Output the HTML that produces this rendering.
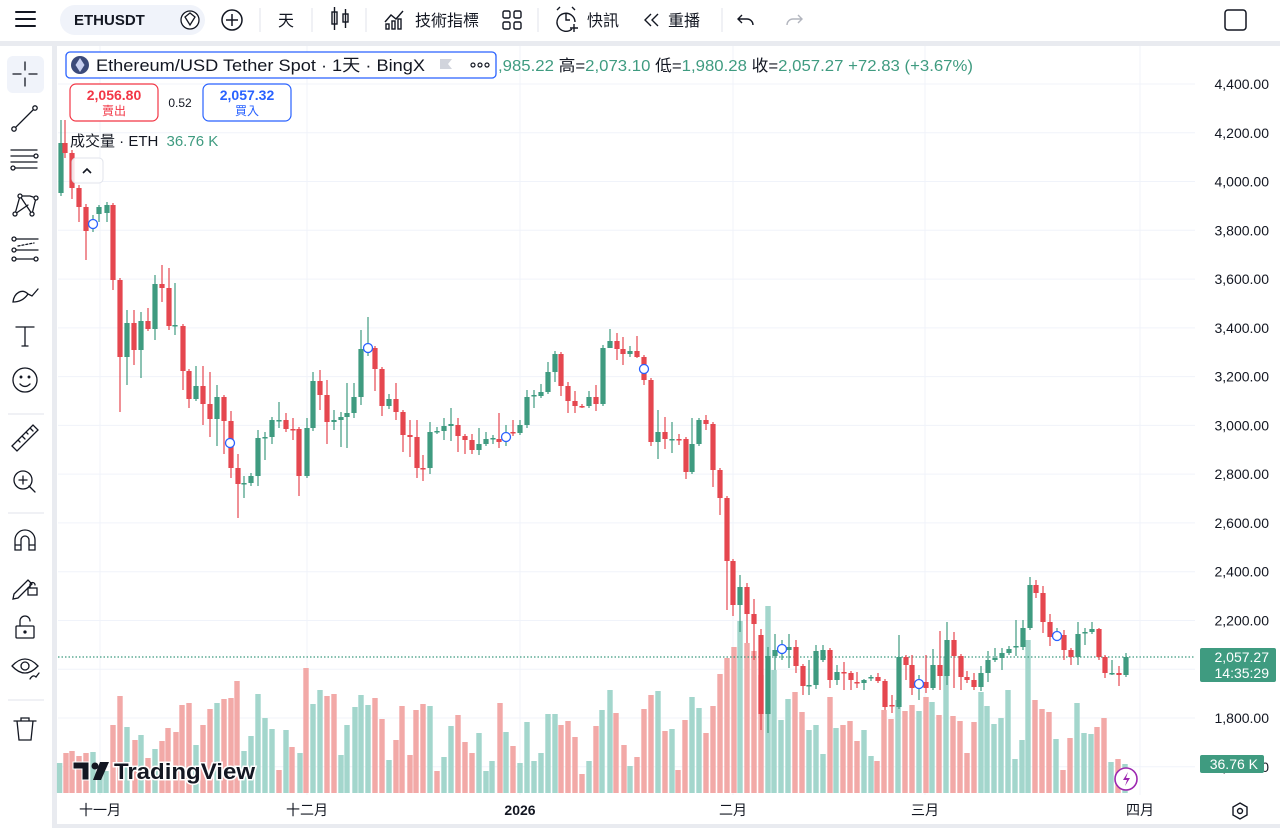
<!DOCTYPE html>
<html><head><meta charset="utf-8">
<style>
html,body{margin:0;padding:0;background:#fff;width:1280px;height:828px;overflow:hidden;font-family:"Liberation Sans","Noto Sans CJK TC",sans-serif;}
svg{position:absolute;left:0;top:0;}
</style></head>
<body>
<svg id="s" width="1280" height="828" viewBox="0 0 1280 828" xmlns="http://www.w3.org/2000/svg" font-family="Liberation Sans, Noto Sans CJK TC, sans-serif">
<rect width="1280" height="828" fill="#fff"/>
<rect x="0" y="41" width="1280" height="5" fill="#e9ebf0"/>
<rect x="52" y="41" width="5" height="787" fill="#e9ebf0"/>
<rect x="57" y="824" width="1223" height="4" fill="#e9ebf0"/>
<g id="grid" stroke="#f0f3fa" stroke-width="1"></g>
<g id="vol"></g>
<line x1="58" y1="657" x2="1195" y2="657" stroke="#3f9b80" stroke-width="1.2" stroke-dasharray="1.5,2"/>
<g id="cdl"></g>
<g id="mk" fill="#fff" stroke="#2962ff" stroke-width="1.3"></g>

<g stroke="#131722" stroke-width="2" stroke-linecap="round">
<line x1="16" y1="12" x2="35" y2="12"/><line x1="16" y1="19" x2="35" y2="19"/><line x1="16" y1="26" x2="35" y2="26"/>
</g>
<rect x="60" y="5" width="145" height="30" rx="15" fill="#f0f3fa"/>
<text x="74" y="25" font-size="15" font-weight="bold" fill="#131722">ETHUSDT</text>
<circle cx="190" cy="20" r="9" fill="#fff" stroke="#131722" stroke-width="1.3"/>
<path d="M185 17 L190 13 L195 17 L190 25 Z" fill="none" stroke="#131722" stroke-width="1.3"/>
<circle cx="232" cy="20" r="10" fill="none" stroke="#131722" stroke-width="1.5"/>
<path d="M232 14v12M226 20h12" stroke="#131722" stroke-width="1.5"/>
<g stroke="#e0e3eb"><line x1="260" y1="8" x2="260" y2="32"/><line x1="312" y1="8" x2="312" y2="32"/><line x1="366" y1="8" x2="366" y2="32"/><line x1="538" y1="8" x2="538" y2="32"/><line x1="722" y1="8" x2="722" y2="32"/></g>
<text x="278" y="26" font-size="16" fill="#131722">天</text>
<g stroke="#131722" stroke-width="1.4" fill="none"><rect x="332" y="12" width="5" height="12"/><line x1="334.5" y1="7" x2="334.5" y2="30"/><rect x="343" y="14" width="5" height="8"/><line x1="345.5" y1="9" x2="345.5" y2="28"/></g>
<g stroke="#131722" stroke-width="1.4" fill="none"><path d="M385 22 L391 15 L396 19 L403 11"/><rect x="386" y="24" width="3" height="5"/><rect x="392" y="21" width="3" height="8"/><rect x="398" y="19" width="3" height="10"/></g>
<text x="415" y="26" font-size="16" fill="#131722">技術指標</text>
<g stroke="#131722" stroke-width="1.4" fill="none"><rect x="503" y="11" width="7" height="7" rx="1.5"/><rect x="514" y="11" width="7" height="7" rx="1.5"/><rect x="503" y="22" width="7" height="7" rx="1.5"/><rect x="514" y="22" width="7" height="7" rx="1.5"/></g>
<g stroke="#131722" stroke-width="1.4" fill="none"><path d="M572 29 A9 9 0 1 1 575 22"/><path d="M566 14v6h4"/><path d="M574 24v8M570 28h8"/><path d="M557 10l3-3M575 10l-3-3"/></g>
<text x="587" y="26" font-size="16" fill="#131722">快訊</text>
<g stroke="#131722" stroke-width="1.4" fill="none"><path d="M651 14l-6 6 6 6M658 14l-6 6 6 6"/></g>
<text x="668" y="26" font-size="16" fill="#131722">重播</text>
<path d="M742 15 l-4 4 4 4 M738 19 h9 a6 6 0 0 1 6 6" stroke="#131722" stroke-width="1.4" fill="none"/>
<path d="M798 15 l4 4 -4 4 M802 19 h-9 a6 6 0 0 0 -6 6" stroke="#b2b5be" stroke-width="1.4" fill="none"/>
<rect x="1225" y="10" width="21" height="20" rx="3" fill="none" stroke="#131722" stroke-width="1.5"/>

<rect x="7" y="56" width="37" height="37" rx="6" fill="#f0f3fa"/>
<g stroke="#131722" stroke-width="1.3" fill="none" stroke-linecap="round">
<path d="M25 62v8M25 78v8M13 74h8M29 74h8"/>
<path d="M14 129 L35 108"/><circle cx="14" cy="129" r="2.2" fill="#fff"/><circle cx="35" cy="108" r="2.2" fill="#fff"/>
<path d="M11 150h26M11 156h26M11 162h26M11 168h26"/><circle cx="36" cy="156" r="2" fill="#fff"/><circle cx="13" cy="168" r="2" fill="#fff"/>
<path d="M15 214 L20 196 L32 214 L36 198 M20 196 L30 196 L36 198 M15 214 L28 205"/><circle cx="15" cy="214" r="2" fill="#fff"/><circle cx="20" cy="196" r="2" fill="#fff"/><circle cx="36" cy="198" r="2" fill="#fff"/><circle cx="32" cy="214" r="2" fill="#fff"/>
<path d="M14 239h24M14 250h24M14 259h24"/><path d="M18 246l16-3" stroke-dasharray="2 2"/><circle cx="14" cy="239" r="2" fill="#fff"/><circle cx="14" cy="250" r="2" fill="#fff"/><circle cx="14" cy="259" r="2" fill="#fff"/><circle cx="36" cy="259" r="2" fill="#fff"/>
<path d="M13 302 C14 293 22 288 28 294 C24 300 18 302 13 302 Z M28 294 l4 2 6-7"/>
<path d="M16 327h18M25 327v19M22 346h6"/>
<circle cx="25" cy="380" r="12"/><circle cx="21" cy="377" r="0.8" fill="#131722"/><circle cx="29" cy="377" r="0.8" fill="#131722"/><path d="M20 384 q5 5 10 0"/>
<path d="M12 446 L33 425 L38 430 L17 451 Z M18 440l2 2M22 436l3 3M26 432l2 2M30 428l3 3"/>
<circle cx="23" cy="480" r="9"/><path d="M23 476v8M19 480h8M29 486l6 6"/>
<path d="M15 550v-10a10 10 0 0 1 20 0v10h-6v-10a4 4 0 0 0 -8 0v10z M15 545h6M29 545h6"/>
<path d="M14 594 L28 580 L32 584 L18 598 L13 599 Z"/><rect x="28" y="588" width="9" height="7"/><path d="M30 588v-3a2.5 2.5 0 0 1 5 0"/>
<rect x="16" y="626" width="18" height="12" rx="1"/><path d="M20 626v-5a5 5 0 0 1 10 0"/><circle cx="25" cy="632" r="1" fill="#131722"/>
<path d="M12 666 q13 -14 26 0 q-13 14 -26 0"/><circle cx="25" cy="666" r="4"/><path d="M30 679 q3 -5 6 -2 l3 -4"/>
<path d="M14 721h22M17 721l2 19h12l2-19M21 721v-3h8v3"/>
</g>
<g stroke="#e0e3eb"><line x1="8" y1="414" x2="44" y2="414"/><line x1="8" y1="513" x2="44" y2="513"/><line x1="8" y1="700" x2="44" y2="700"/></g>

<rect x="66" y="52" width="430" height="26" rx="4" fill="#fff" stroke="#2962ff" stroke-width="1.3"/>
<circle cx="80" cy="65" r="9" fill="#3b4a7a"/><path d="M80 58 L84.5 65 L80 72 L75.5 65 Z" fill="#c8d0f0"/>
<text x="96" y="71" font-size="17" fill="#131722" textLength="329" lengthAdjust="spacingAndGlyphs">Ethereum/USD Tether Spot · 1天 · BingX</text>
<path d="M440 59h12l-4 5 4 5h-12z" fill="#d1d4dc"/>
<g fill="none" stroke="#131722" stroke-width="1.2"><circle cx="473" cy="65" r="2"/><circle cx="480" cy="65" r="2"/><circle cx="487" cy="65" r="2"/></g>
<text x="498" y="71" font-size="16" fill="#3f9b80" textLength="475" lengthAdjust="spacingAndGlyphs">,985.22 <tspan fill="#131722">高=</tspan>2,073.10 <tspan fill="#131722">低=</tspan>1,980.28 <tspan fill="#131722">收=</tspan>2,057.27 +72.83 (+3.67%)</text>
<rect x="70" y="84" width="88" height="37" rx="6" fill="#fff" stroke="#f23645" stroke-width="1.2"/>
<text x="114" y="100" font-size="14" font-weight="bold" fill="#f23645" text-anchor="middle">2,056.80</text>
<text x="114" y="115" font-size="12" fill="#f23645" text-anchor="middle">賣出</text>
<text x="180" y="107" font-size="12" fill="#131722" text-anchor="middle">0.52</text>
<rect x="203" y="84" width="88" height="37" rx="6" fill="#fff" stroke="#2962ff" stroke-width="1.2"/>
<text x="247" y="100" font-size="14" font-weight="bold" fill="#2962ff" text-anchor="middle">2,057.32</text>
<text x="247" y="115" font-size="12" fill="#2962ff" text-anchor="middle">買入</text>
<text x="70" y="146" font-size="15" fill="#131722">成交量 · ETH <tspan dx="4" fill="#3f9b80">36.76 K</tspan></text>
<rect x="72" y="158" width="31" height="25" rx="4" fill="#fff" fill-opacity="0.85" stroke="#e0e3eb"/>
<path d="M83 173l4-4 4 4" stroke="#131722" stroke-width="1.6" fill="none"/>

<g>
<path d="M73 762h16v18h-7v-11h-9z" fill="#131722" stroke="#fff" stroke-width="1"/>
<circle cx="95" cy="766" r="3.5" fill="#131722"/>
<path d="M100 762h9l-8 18h-8z" fill="#131722"/>
<text x="114" y="779" font-size="22" font-weight="bold" fill="#131722" stroke="#fff" stroke-width="3" paint-order="stroke" textLength="141" lengthAdjust="spacingAndGlyphs">TradingView</text>
</g>
<circle cx="1126" cy="779" r="11" fill="#fff" stroke="#9c27b0" stroke-width="1.6"/>
<path d="M1128 772l-5 8h4l-2 6 5-8h-4z" fill="#9c27b0"/>

<g id="pax" font-size="14" fill="#131722" text-anchor="end"></g>
<rect x="1200" y="648" width="76" height="34" rx="2" fill="#3f9b80"/>
<text x="1269" y="662" font-size="14" fill="#fff" text-anchor="end">2,057.27</text>
<text x="1269" y="678" font-size="14" fill="#fff" text-anchor="end">14:35:29</text>
<rect x="1200" y="755" width="64" height="18" rx="2" fill="#3f9b80"/>
<text x="1258" y="769" font-size="14" fill="#fff" text-anchor="end">36.76 K</text>

<g font-size="14" fill="#131722" text-anchor="middle">
<text x="100" y="815">十一月</text><text x="307" y="815">十二月</text><text x="520" y="815" font-weight="bold">2026</text>
<text x="733" y="815">二月</text><text x="925" y="815">三月</text><text x="1140" y="815">四月</text>
</g>
<path d="M1240 803 l7 4 v8 l-7 4 -7 -4 v-8z" fill="none" stroke="#131722" stroke-width="1.4"/><circle cx="1240" cy="811" r="2.5" fill="none" stroke="#131722" stroke-width="1.4"/>
</svg>
<script>
(function(){
var NS="http://www.w3.org/2000/svg";
function el(p,t,a){var e=document.createElementNS(NS,t);for(var k in a)e.setAttribute(k,a[k]);p.appendChild(e);return e;}
var grid=document.getElementById('grid'),pax=document.getElementById('pax');
for(var p=4400;p>=1600;p-=200){var y=84+(4400-p)*0.24385;el(grid,'line',{x1:58,y1:y,x2:1195,y2:y});
 if(p!==2000){var t=el(pax,'text',{x:1269,y:y+5});t.textContent=(p/1000|0)+','+String(p%1000).padStart(3,'0')+'.00';}}
[100,307,520,733,925,1140].forEach(function(x){el(grid,'line',{x1:x,y1:46,x2:x,y2:795});});
var V="59.6,763,g;66,753,r;72,751,r;79,756,r;86,753,r;93,752,g;100,766,g;106,771,g;113,725,r;120,696,r;127,727,g;135,740,r;141,735,g;148,758,r;155,749,g;162,741,r;168,728,r;176,732,r;182,705,r;189,703,r;196,745,g;203,725,r;210,709,r;217,703,g;224,699,r;231,698,r;237,681,r;244,751,g;251,736,g;258,694,g;265,718,g;272,729,g;279,770,r;286,730,g;292,747,r;300,753,g;306,668,r;313,704,g;320,690,g;327,696,r;334,694,r;341,755,g;347,725,g;355,707,g;361,695,g;368,705,g;375,698,r;382,719,r;389,760,g;396,740,r;402,706,r;410,755,r;416,710,r;423,704,r;430,706,g;437,771,r;444,757,g;451,726,g;458,715,r;465,742,r;472,753,r;479,733,g;486,771,g;492,761,g;500,703,r;506,732,g;513,746,r;520,763,g;527,722,g;534,761,g;541,753,g;548,714,g;555,714,g;561,725,r;568,721,r;575,737,r;582,774,r;589,761,g;596,726,r;602,710,g;610,690,g;616,713,r;624,745,r;630,766,g;637,757,r;644,709,r;651,695,r;658,691,g;665,731,r;672,729,g;678,770,r;685,720,r;692,697,g;699,708,g;706,733,r;713,706,r;720,674,r;727,658,r;734,647,r;740,621,g;747,643,r;754,651,r;761,675,r;768,606,g;774,670,g;781,720,g;788,699,g;795,692,r;802,712,r;809,730,g;816,725,g;823,754,g;830,697,r;836,728,g;843,725,r;850,721,r;857,741,r;864,730,g;871,756,g;877,761,r;884,710,r;891,719,r;898,700,g;905,711,r;912,705,r;919,711,g;926,697,r;932,702,g;939,715,r;946,657,g;953,716,r;960,721,r;967,753,r;974,722,r;981,692,g;987,706,g;994,724,g;1001,718,g;1008,690,g;1015,759,g;1022,740,g;1028,640,g;1035,700,r;1042,709,r;1049,712,r;1056,739,g;1063,770,r;1070,738,r;1077,703,g;1084,733,g;1091,734,g;1097,727,r;1104,718,r;1111,762,g;1118,759,r;1125,764,g";
var vg=document.getElementById('vol');
V.split(';').forEach(function(s){var a=s.split(',');var x=+a[0],y=+a[1];el(vg,'rect',{x:x-2.7,y:y,width:5.4,height:793-y,fill:a[2]=='g'?'#a3d6cc':'#f2a9a7'});});
var C="61,193,143,120,196;65,143,153,120,158;72,153,188,150,199;79,188,207,185,222;86,207,231,204,260;93,227,222,215,232;99,214,207,205,222;107,213,205,202,222;113,205,280,203,290;120,280,357,278,412;127,357,323,310,385;134,323,350,310,365;141,350,321,312,378;148,321,329,308,331;155,329,284,275,340;162,284,288,265,302;169,288,326,268,330;175,326,325,283,335;183,326,371,324,390;189,371,399,369,408;196,399,386,366,401;203,386,404,366,425;210,404,419,372,437;217,419,397,385,446;224,397,421,395,454;231,421,468,411,478;238,468,484,454,518;244,483,483,476,498,g;251,483,476,473,486;258,476,438,430,486;265,437,437,432,460,g;272,437,420,417,444;279,420,420,402,428,g;286,420,429,413,432;293,429,429,418,440;299,429,476,427,496;307,476,428,418,478;313,428,381,372,431;320,381,395,370,410;327,395,422,380,444;334,422,420,410,430;341,420,417,412,447;347,417,413,383,448;354,413,397,383,418;361,397,349,330,405;368,349,346,317,356,g;375,348,369,346,391;382,369,406,367,416;389,406,399,394,409;396,399,412,383,420;403,412,435,410,452;410,435,437,420,457;417,437,468,420,478;423,468,468,455,481;430,468,432,422,474;437,431,431,427,434,g;444,431,426,418,440;451,426,424,408,441;458,425,436,418,452;465,436,440,434,454;472,440,450,434,454;479,450,444,428,455;486,444,439,432,446;493,438,438,435,444,g;499,439,442,413,448;506,438,437,425,446,g;513,432,432,420,436;520,433,425,420,435;527,425,397,390,428;534,396,395,390,408,g;541,396,392,384,398;548,392,372,362,394;555,372,354,351,382;561,354,386,352,396;568,386,401,382,413;575,401,406,391,413;582,406,406,404,408;589,406,397,391,408;596,397,404,385,411;603,404,348,345,406;610,348,341,329,348;617,341,349,333,360;623,349,354,337,365;630,354,351,346,357;637,351,357,336,358;644,357,380,355,385;651,380,442,378,446;658,442,432,410,459;665,432,439,417,449;672,439,439,422,453,g;679,439,439,434,445;686,439,472,437,479;692,472,444,418,474;699,444,420,418,446;706,420,424,415,430;713,424,470,422,487;720,470,498,468,515;727,498,561,496,610;733,561,605,559,616;740,605,587,575,632;747,587,614,583,643;754,614,624,599,660;761,635,714,629,730;768,714,656,647,733;775,656,650,634,670;782,650,648,640,660,g;789,650,647,634,668;796,647,666,640,673;803,666,686,664,695;809,685,685,660,695,g;816,685,651,645,689;823,660,650,645,662;830,650,680,648,688;837,680,672,665,685;844,672,673,662,690;851,673,680,671,690;857,682,682,672,688;864,683,680,679,690;871,677,677,675,681,g;878,677,681,673,683;885,681,707,679,710;892,705,705,695,713;899,707,657,635,709;906,657,665,655,680;912,665,688,655,695;919,684,684,675,700,g;926,682,688,655,693;933,688,665,649,690;940,665,676,631,690;947,676,640,622,685;954,640,656,632,688;961,656,677,654,690;967,677,680,671,683;974,680,687,673,690;981,687,673,666,691;988,673,660,651,682;995,660,658,648,662;1002,658,653,648,670;1009,653,649,646,655;1016,646,646,620,656,g;1023,647,628,620,650;1030,628,585,577,630;1036,585,593,580,598;1043,593,622,586,633;1050,622,637,614,646;1057,636,636,628,640,g;1064,635,650,630,660;1071,650,657,648,665;1078,657,634,622,665;1085,632,632,628,645,g;1092,632,629,622,634;1099,629,657,628,660;1105,657,673,655,678;1112,673,673,660,675,g;1119,673,675,666,686;1126,675,657,653,677";
var cg=document.getElementById('cdl');
C.split(';').forEach(function(s){var a=s.split(',');var x=+a[0],o=+a[1],c=+a[2],h=+a[3],l=+a[4];
 var g=(c<o)||a[5]=='g';var col=g?'#3f9b80':'#e5474f';
 el(cg,'line',{x1:x,y1:Math.min(h,o,c),x2:x,y2:Math.max(l,o,c),stroke:col,'stroke-width':1.2});
 var t=Math.min(o,c),hh=Math.max(Math.abs(o-c),1.5);
 el(cg,'rect',{x:x-2.6,y:t,width:5.2,height:hh,fill:col});});
var mk=document.getElementById('mk');
[[93,224],[230,443],[368,348],[506,437],[644,369],[782,649],[919,684],[1057,636]].forEach(function(m){el(mk,'circle',{cx:m[0],cy:m[1],r:4.5});});
})();
</script>
</body></html>
